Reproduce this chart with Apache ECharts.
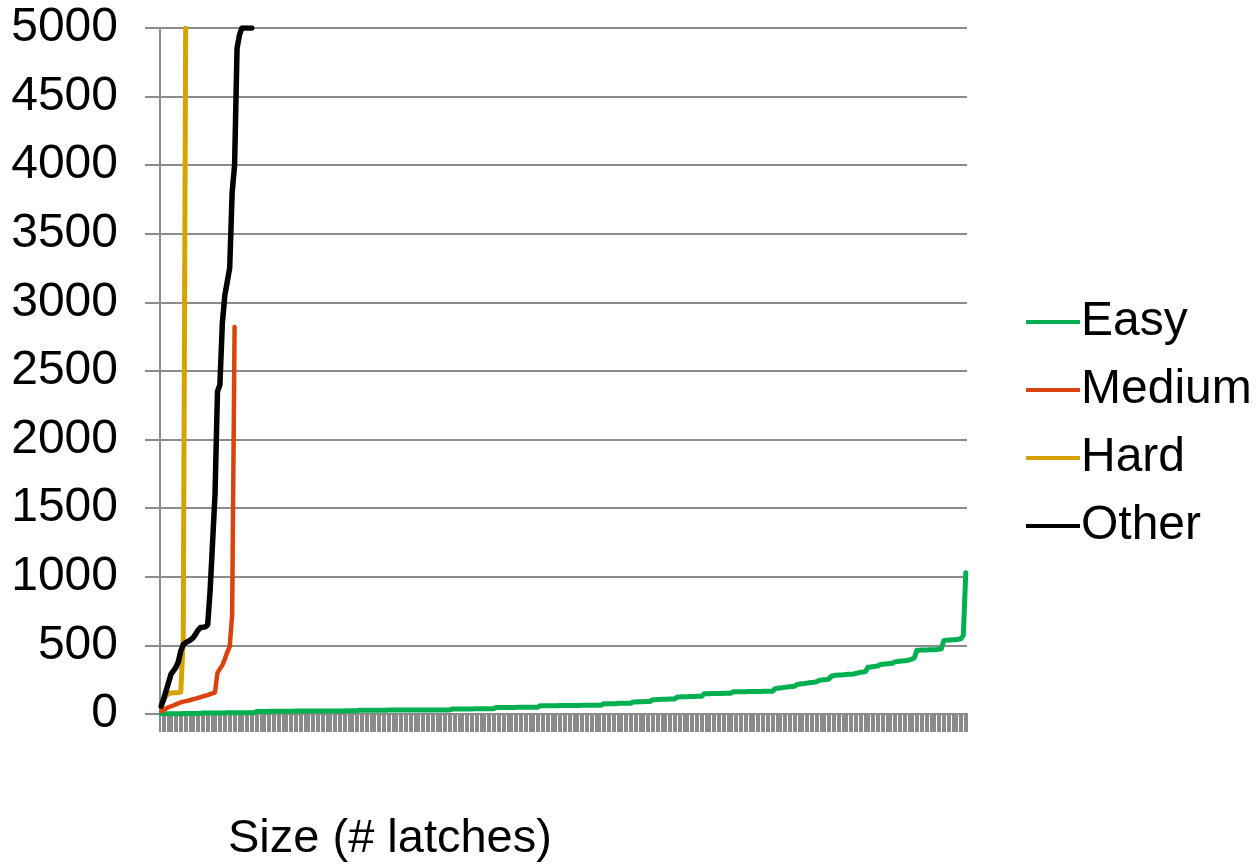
<!DOCTYPE html>
<html>
<head>
<meta charset="utf-8">
<script src="https://cdn.jsdelivr.net/npm/echarts@6/dist/echarts.min.js"></script>
<style>
  html, body { margin: 0; padding: 0; background: #fff; }
  #chart { width: 1256px; height: 864px; }
</style>
</head>
<body>
<div id="chart"></div>
<script>
// Runtime (s) of each instance, sorted ascending within its class.
const easy = [
  1,1,2,2,2,2,2,2,2,3,3,3,3,3,3,4,4,
  8,8,8,8,8,8,8,8,8,8,9,9,9,9,9,9,9,9,10,10,10,10,
  19,19,19,19,19,19,20,20,20,20,20,20,20,20,20,20,21,21,21,21,21,21,21,21,21,21,
  22,22,22,22,22,22,22,22,22,22,22,23,23,23,23,23,
  28,28,28,28,28,28,28,28,28,28,28,28,29,29,29,29,29,29,29,29,29,29,29,29,29,
  30,30,30,30,30,30,30,30,30,30,30,30,30,
  36,36,36,36,36,36,36,36,36,38,38,38,38,38,38,38,38,38,
  48,48,48,48,48,48,48,48,48,50,50,50,50,50,50,50,50,50,
  60,60,60,60,60,60,60,60,62,62,62,62,62,62,62,62,62,64,64,64,64,64,64,64,64,64,
  75,75,75,75,75,75,78,78,78,78,78,78,
  88,88,90,90,90,92,92,92,
  104,104,106,106,108,108,108,110,110,110,
  124,124,126,126,126,128,128,128,130,130,130,
  148,148,148,150,150,150,150,150,152,152,152,152,
  163,163,163,163,163,163,164,164,164,164,164,164,166,166,166,166,166,
  185,188,190,192,195,196,198,200,202,
  215,218,220,222,225,228,230,232,235,
  245,248,250,252,255,
  275,280,282,284,285,286,288,290,290,292,295,
  300,304,306,310,
  340,342,345,348,350,
  360,362,364,366,368,370,
  380,382,384,386,388,390,395,
  400,410,
  465,465,466,466,467,468,468,469,470,472,475,
  535,538,540,540,542,542,545,548,
  575,
  1030
];
const medium = [20,30,40,50,55,62,70,78,84,90,94,97,102,108,112,117,122,128,133,138,145,150,158,300,330,355,400,450,490,720,2820];
const hard = [58,100,135,150,153,155,155,157,160,540,5000];
const other = [58,110,170,230,290,315,340,380,460,505,520,530,540,555,580,610,630,632,635,650,900,1250,1600,2350,2400,2850,3050,3150,3250,3800,4000,4850,4950,5000,5000,5000,5000,5000];

// One category per instance (the longest series sets the count).
const categories = easy.map((_, i) => String(i + 1));
const yTicks = { min: 0, max: 5000, interval: 500 };
const seriesNames = ['Easy', 'Medium', 'Hard', 'Other'];
const seriesColors = ['#00B050', '#D9440E', '#D6A300', '#000000'];
const xTitle = 'Size (# latches)';

const FONT = '"Liberation Sans", Arial, sans-serif';
const chart = echarts.init(document.getElementById('chart'), null, { renderer: 'canvas' });

const lineSeries = (name, data, color, width) => ({
  name, type: 'line', data,
  showSymbol: false, symbol: 'none', smooth: false,
  lineStyle: { color, width, cap: 'round', join: 'round' },
  itemStyle: { color },
  clip: true, animation: false
});

chart.setOption({
  animation: false,
  textStyle: { fontFamily: FONT, color: '#000' },
  grid: { left: 160, right: 289, top: 28, bottom: 150, containLabel: false },
  title: {
    text: xTitle, left: 223, top: 811,
    textStyle: { fontFamily: FONT, fontSize: 47, fontWeight: 'normal', color: '#000' }
  },
  legend: {
    orient: 'vertical', left: 1021, top: 293,
    icon: 'rect', itemWidth: 54, itemHeight: 4, itemGap: 20,
    textStyle: { fontFamily: FONT, fontSize: 48, color: '#000', padding: [0, 0, 0, -4] },
    data: seriesNames
  },
  xAxis: {
    type: 'category', data: categories, boundaryGap: true,
    axisLine: { show: true, lineStyle: { color: '#8c8c8c', width: 2 } },
    axisTick: { show: true, interval: 0, length: 18, lineStyle: { color: '#8a8a8a', width: 2 } },
    axisLabel: { show: false },
    splitLine: { show: false }
  },
  yAxis: {
    type: 'value', min: yTicks.min, max: yTicks.max, interval: yTicks.interval,
    axisLine: { show: true, lineStyle: { color: '#8c8c8c', width: 2 } },
    axisTick: { show: true, length: 15, lineStyle: { color: '#8c8c8c', width: 2 } },
    axisLabel: { fontFamily: FONT, fontSize: 48, color: '#000', margin: 42, formatter: v => String(v) },
    splitLine: { show: true, lineStyle: { color: '#8c8c8c', width: 2 } }
  },
  series: [
    lineSeries(seriesNames[0], easy, seriesColors[0], 5),
    lineSeries(seriesNames[1], medium, seriesColors[1], 4.5),
    lineSeries(seriesNames[2], hard, seriesColors[2], 5),
    lineSeries(seriesNames[3], other, seriesColors[3], 5.5)
  ]
});
</script>
</body>
</html>
